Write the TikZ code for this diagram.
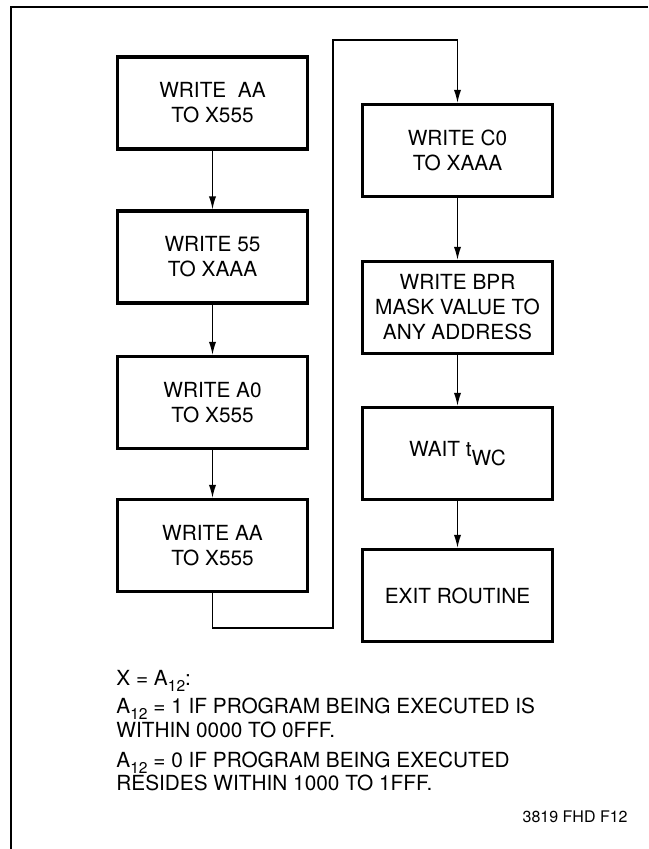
\documentclass[tikz,border=0pt]{standalone}
\usepackage{fontspec}
\setmainfont{TeX Gyre Heros}
\usetikzlibrary{arrows.meta}
\newcommand{\lowidx}[1]{\raisebox{-3pt}{\fontsize{7.8}{8}\selectfont #1}}
\tikzset{
  stepbox/.style={draw,line width=1.6pt,minimum width=95pt,minimum height=46pt,
    inner sep=0pt,align=center,font=\fontsize{10.4}{12.5}\selectfont},
  flow/.style={line width=0.65pt,-{Latex[length=6.5pt,width=3.6pt]}},
  note/.style={anchor=base west,inner sep=0pt,font=\fontsize{10.4}{12.5}\selectfont},
}
\begin{document}
\begin{tikzpicture}[x=0.5pt,y=-0.5pt]
    \useasboundingbox (0,0) rectangle (648,849);
    % frame
    \draw[line width=1pt] (648,7) -- (11,7) -- (11,849);
    % left column
    \node[stepbox] (wr1) at (212.5,103) {WRITE~ AA\\TO X555};
    \node[stepbox] (wr2) at (212.5,257) {WRITE 55\\TO XAAA};
    \node[stepbox] (wr3) at (212.5,402.5) {WRITE A0\\TO X555};
    \node[stepbox] (wr4) at (212.5,545.5) {WRITE AA\\TO X555};
    % right column
    \node[stepbox] (wr5) at (457.5,150.5) {WRITE C0\\TO XAAA};
    \node[stepbox] (wr6) at (457.5,307.5) {WRITE BPR\\MASK VALUE TO\\ANY ADDRESS};
    \node[stepbox] (wait) at (457.5,453.5) {WAIT t\raisebox{-4.5pt}{WC}};
    \node[stepbox] (exit) at (457.5,595.5) {EXIT ROUTINE};
    \draw[flow] (wr1) -- (wr2);
    \draw[flow] (wr2) -- (wr3);
    \draw[flow] (wr3) -- (wr4);
    % jump to second column
    \coordinate (lpa) at (333,628);
    \coordinate (lpb) at (333,40);
    \draw[flow] (wr4.south) |- (lpa) -- (lpb) -| (wr5.north);
    \draw[flow] (wr5) -- (wr6);
    \draw[flow] (wr6) -- (wait);
    \draw[flow] (wait) -- (exit);
    % notes
    \node[note] (nx) at (116,685) {X = A\lowidx{12}:};
    \node[note] (na) at (116,713) {A\lowidx{12} = 1 IF PROGRAM BEING EXECUTED IS};
    \node[note] (nb) at (116,737) {WITHIN 0000 TO 0FFF.};
    \node[note] (nc) at (116,767) {A\lowidx{12} = 0 IF PROGRAM BEING EXECUTED};
    \node[note] (nd) at (116,790) {RESIDES WITHIN 1000 TO 1FFF.};
    \node[anchor=base east,inner sep=0pt,font=\fontsize{8}{9}\selectfont] (fig) at (628,822) {3819 FHD F12};
\end{tikzpicture}
\end{document}
